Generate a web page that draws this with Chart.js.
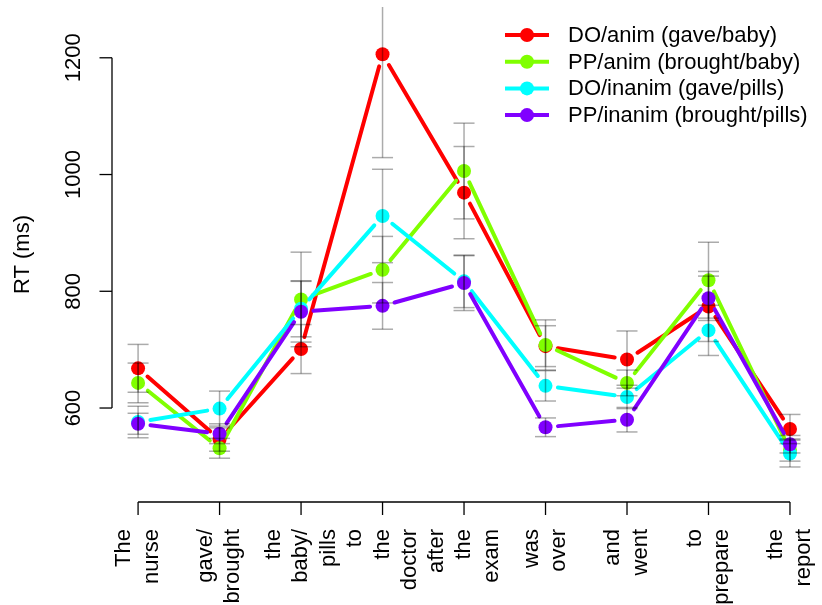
<!DOCTYPE html>
<html lang="en">
<head>
<meta charset="UTF-8">
<title>RT by sentence region</title>
<script src="https://cdn.jsdelivr.net/npm/chart.js"></script>
<style>
    body { margin: 0; background: #fff; }
    canvas { display: block; }
</style>
</head>
<body>
<canvas id="rtChart" width="822" height="605"></canvas>
<script>
// sentence regions (one tick each, words stacked)
const regionWords = [
    ['The', 'nurse'], ['gave/', 'brought'], ['the', 'baby/', 'pills'], ['to', 'the', 'doctor'],
    ['after', 'the', 'exam'], ['was', 'over'], ['and', 'went'], ['to', 'prepare'], ['the', 'report']
];
const seriesNames = ['DO/anim (gave/baby)', 'PP/anim (brought/baby)', 'DO/inanim (gave/pills)', 'PP/inanim (brought/pills)'];
const seriesColors = ['#FF0000', '#80FF00', '#00FFFF', '#8000FF'];

const doAnim = [668, 546, 701, 1206, 969, 706, 683, 774, 564];
const ppAnim = [643, 531, 786, 837, 1006, 708, 643, 819, 528];
const doInanim = [576, 599, 770, 929, 817, 638, 619, 733, 522];
const ppInanim = [573, 556, 765, 775, 814, 567, 580, 788, 538];

const doAnimSE = [41, 20, 42, 177, 79, 35, 49, 60, 25];
const ppAnimSE = [34, 17, 81, 57, 82, 43, 22, 65, 19];
const doInanimSE = [27, 30, 48, 80, 45, 26, 20, 43, 23];
const ppInanimSE = [18, 17, 52, 40, 47, 16, 21, 38, 15];

const yTicks = [600, 800, 1000, 1200];
const yTitle = 'RT (ms)';

const allValues = [doAnim, ppAnim, doInanim, ppInanim];
const allSE = [doAnimSE, ppAnimSE, doInanimSE, ppInanimSE];
const FONT = '22px "Liberation Sans", Arial, sans-serif';

// R type="b": line segments stop short of the points
const gappedLines = {
    id: 'gappedLines',
    beforeDatasetDraw(chart, args) {
        const ctx = chart.ctx;
        const pts = args.meta.data;
        const gap = 12.5;
        ctx.save();
        ctx.strokeStyle = chart.data.datasets[args.index].borderColor;
        ctx.lineWidth = 4;
        ctx.lineCap = 'round';
        for (let i = 0; i < pts.length - 1; i++) {
            const a = pts[i], b = pts[i + 1];
            const dx = b.x - a.x, dy = b.y - a.y;
            const len = Math.sqrt(dx * dx + dy * dy);
            if (len <= gap * 2) continue;
            const ux = dx / len, uy = dy / len;
            ctx.beginPath();
            ctx.moveTo(a.x + ux * gap, a.y + uy * gap);
            ctx.lineTo(b.x - ux * gap, b.y - uy * gap);
            ctx.stroke();
        }
        ctx.restore();
    }
};

const errorBars = {
    id: 'errorBars',
    afterDatasetsDraw(chart) {
        const {ctx, chartArea, scales: {x, y}} = chart;
        ctx.save();
        ctx.beginPath();
        ctx.rect(chartArea.left, chartArea.top, chartArea.right - chartArea.left, chartArea.bottom - chartArea.top);
        ctx.clip();
        ctx.strokeStyle = 'rgba(0,0,0,0.33)';
        ctx.lineWidth = 1.5;
        allValues.forEach((vals, s) => {
            vals.forEach((v, i) => {
                const px = x.getPixelForValue(i + 1);
                const top = y.getPixelForValue(v + allSE[s][i]);
                const bot = y.getPixelForValue(v - allSE[s][i]);
                ctx.beginPath();
                ctx.moveTo(px, top);
                ctx.lineTo(px, bot);
                ctx.stroke();
                [top, bot].forEach(cy => {
                    ctx.beginPath();
                    ctx.moveTo(px - 10.5, cy);
                    ctx.lineTo(px + 10.5, cy);
                    ctx.stroke();
                });
            });
        });
        ctx.restore();
    }
};

const baseAxes = {
    id: 'baseAxes',
    afterDraw(chart) {
        const {ctx, chartArea, scales: {x, y}} = chart;
        ctx.save();
        ctx.strokeStyle = '#000';
        ctx.fillStyle = '#000';
        ctx.lineWidth = 1.3;
        ctx.font = FONT;

        // y axis
        const ax = chartArea.left;
        ctx.beginPath();
        ctx.moveTo(ax, y.getPixelForValue(yTicks[0]));
        ctx.lineTo(ax, y.getPixelForValue(yTicks[yTicks.length - 1]));
        ctx.stroke();
        yTicks.forEach(t => {
            const py = y.getPixelForValue(t);
            ctx.beginPath();
            ctx.moveTo(ax, py);
            ctx.lineTo(ax - 12.5, py);
            ctx.stroke();
            ctx.save();
            ctx.translate(ax - 32, py);
            ctx.rotate(-Math.PI / 2);
            ctx.textAlign = 'center';
            ctx.textBaseline = 'alphabetic';
            ctx.fillText(String(t), 0, 0);
            ctx.restore();
        });
        ctx.save();
        ctx.translate(29, (chartArea.top + chartArea.bottom) / 2);
        ctx.rotate(-Math.PI / 2);
        ctx.textAlign = 'center';
        ctx.textBaseline = 'alphabetic';
        ctx.fillText(yTitle, 0, 0);
        ctx.restore();

        // x axis
        const ay = chartArea.bottom;
        ctx.beginPath();
        ctx.moveTo(x.getPixelForValue(1), ay);
        ctx.lineTo(x.getPixelForValue(regionWords.length), ay);
        ctx.stroke();
        regionWords.forEach((words, i) => {
            const px = x.getPixelForValue(i + 1);
            ctx.beginPath();
            ctx.moveTo(px, ay);
            ctx.lineTo(px, ay + 13);
            ctx.stroke();
            words.forEach((w, j) => {
                const lx = px + (j - (words.length - 1) / 2) * 27.5;
                ctx.save();
                ctx.translate(lx, ay + 27);
                ctx.rotate(-Math.PI / 2);
                ctx.textAlign = 'right';
                ctx.textBaseline = 'middle';
                ctx.fillText(w, 0, 0);
                ctx.restore();
            });
        });

        // legend
        seriesNames.forEach((name, s) => {
            const ly = 35 + s * 26.7;
            ctx.strokeStyle = seriesColors[s];
            ctx.fillStyle = seriesColors[s];
            ctx.lineWidth = 4;
            ctx.beginPath();
            ctx.moveTo(505, ly);
            ctx.lineTo(549, ly);
            ctx.stroke();
            ctx.beginPath();
            ctx.arc(527, ly, 7, 0, Math.PI * 2);
            ctx.fill();
            ctx.fillStyle = '#000';
            ctx.textAlign = 'left';
            ctx.textBaseline = 'middle';
            ctx.fillText(name, 568, ly + 1);
        });
        ctx.restore();
    }
};

const datasets = allValues.map((vals, s) => ({
    label: seriesNames[s],
    data: vals.map((v, i) => ({x: i + 1, y: v})),
    borderColor: seriesColors[s],
    backgroundColor: seriesColors[s],
    showLine: false,
    pointRadius: 7,
    pointHoverRadius: 7,
    pointBorderWidth: 0,
    order: allValues.length - 1 - s
}));

new Chart(document.getElementById('rtChart'), {
    type: 'line',
    data: {datasets},
    options: {
        responsive: false,
        animation: false,
        events: [],
        layout: {padding: {left: 112, right: 0, top: 7, bottom: 103}},
        scales: {
            x: {type: 'linear', min: 0.68, max: 9.307, display: false},
            y: {type: 'linear', min: 439, max: 1287, display: false}
        },
        plugins: {legend: {display: false}, tooltip: {enabled: false}}
    },
    plugins: [gappedLines, errorBars, baseAxes]
});
</script>
</body>
</html>
